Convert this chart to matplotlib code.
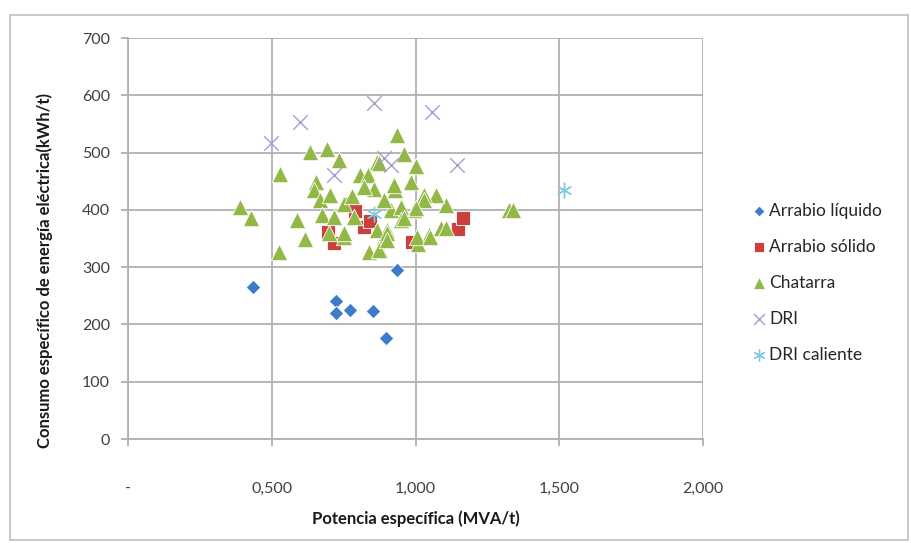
import matplotlib
matplotlib.use("Agg")
import matplotlib.pyplot as plt
from matplotlib.patches import Rectangle
from matplotlib.ticker import FuncFormatter

plt.rcParams['font.family'] = ['Lato', 'DejaVu Sans']

# Arrabio liquido
liq_x = [0.433, 0.934, 0.724, 0.724, 0.773, 0.853, 0.898]
liq_y = [266, 295, 241, 220, 225, 224, 177]

# Arrabio solido
sol_x = [0.694, 0.715, 0.770, 0.790, 0.820, 0.840, 0.988, 1.147, 1.165]
sol_y = [362, 342, 410, 398, 370, 380, 344, 367, 386]

# Chatarra
cha_x = [0.936, 0.634, 0.692, 0.733, 0.530, 0.390, 0.427, 0.588, 0.652, 0.646,
         0.960, 1.000, 0.866, 0.808, 0.835, 0.617, 0.524, 0.838, 0.878, 0.750,
         0.889, 0.900, 1.325, 1.340, 1.105, 1.070, 1.010, 1.047, 1.087, 1.105,
         0.930, 0.983, 1.030, 0.913, 0.994, 0.855, 0.872, 0.924, 1.030, 1.000,
         0.948, 0.890, 0.785, 0.750, 0.948, 0.866, 0.900, 1.006, 0.750, 0.669,
         0.704, 0.675, 0.715, 0.698, 0.872, 0.900, 1.050, 0.780, 0.820, 0.960]
cha_y = [530, 501, 507, 487, 462, 405, 385, 382, 449, 435,
         497, 477, 484, 461, 461, 349, 327, 327, 330, 353,
         353, 365, 400, 400, 408, 426, 341, 356, 368, 368,
         435, 449, 426, 400, 400, 437, 481, 443, 417, 403,
         405, 417, 388, 411, 382, 365, 359, 353, 359, 417,
         426, 391, 388, 359, 330, 347, 353, 425, 440, 385]

# DRI
dri_x = [0.497, 0.599, 0.855, 0.718, 0.890, 0.913, 1.058, 1.143]
dri_y = [516, 554, 586, 461, 490, 478, 570, 478]

# DRI caliente
drc_x = [1.517, 0.855]
drc_y = [435, 392]

x_ticks = [0, 0.5, 1.0, 1.5, 2.0]
y_ticks = [0, 100, 200, 300, 400, 500, 600, 700]

fig = plt.figure(figsize=(9.12, 5.43), dpi=100)
fig.patches.append(Rectangle((0.011, 0.005), 0.985, 0.968, transform=fig.transFigure,
                             fill=False, edgecolor='#bfbfbf', linewidth=1.2))
ax = fig.add_axes([0.1404, 0.1915, 0.6305, 0.7385])

ax.scatter(liq_x, liq_y, marker='D', s=55, color='#3d7cc9', edgecolors='white',
           linewidths=0.6, label='Arrabio líquido', zorder=3)
ax.scatter(sol_x, sol_y, marker='s', s=95, color='#c9403c', edgecolors='white',
           linewidths=0.6, label='Arrabio sólido', zorder=3)
ax.scatter(cha_x, cha_y, marker='^', s=140, color='#92b846', edgecolors='white',
           linewidths=0.6, label='Chatarra', zorder=3)
ax.scatter(dri_x, dri_y, marker='x', s=110, color='#a79bd0', linewidths=1.0,
           label='DRI', zorder=4)
ax.scatter(drc_x, drc_y, marker=(6, 2, 0), s=110, color='#7fcbe6', linewidths=1.0,
           label='DRI caliente', zorder=4)

ax.set_xlim(0, 2.0)
ax.set_ylim(0, 700)
ax.set_xticks(x_ticks)
ax.set_yticks(y_ticks)


def fmt_x(v, pos):
    if v == 0:
        return '-'
    return f"{v:.3f}".replace('.', ',')


ax.xaxis.set_major_formatter(FuncFormatter(fmt_x))
ax.grid(True, color='#b0b0b0', linewidth=1.3)
ax.set_axisbelow(True)
for side in ['top', 'right']:
    ax.spines[side].set_visible(False)
for side in ['left', 'bottom']:
    ax.spines[side].set_color('#b0b0b0')
    ax.spines[side].set_linewidth(1.3)
ax.tick_params(axis='both', colors='#b0b0b0', length=5, width=1.3, labelsize=11.5,
               labelcolor='#404040', pad=8)
ax.tick_params(axis='x', pad=26)

ax.set_xlabel('Potencia específica (MVA/t)', fontsize=12, fontweight='bold',
              color='#1a1a1a', labelpad=10)
ax.set_ylabel('Consumo específico de energía eléctrica(kWh/t)', fontsize=12,
              fontweight='bold', color='#1a1a1a', labelpad=22)
ax.yaxis.set_label_coords(-0.13, 0.42)

leg = ax.legend(loc='center left', bbox_to_anchor=(1.055, 0.39), frameon=False,
                fontsize=12.5, handletextpad=0.1, labelspacing=1.15,
                markerscale=0.75, handlelength=1.0, labelcolor='#262626')

fig.savefig('out.png', dpi=100)
